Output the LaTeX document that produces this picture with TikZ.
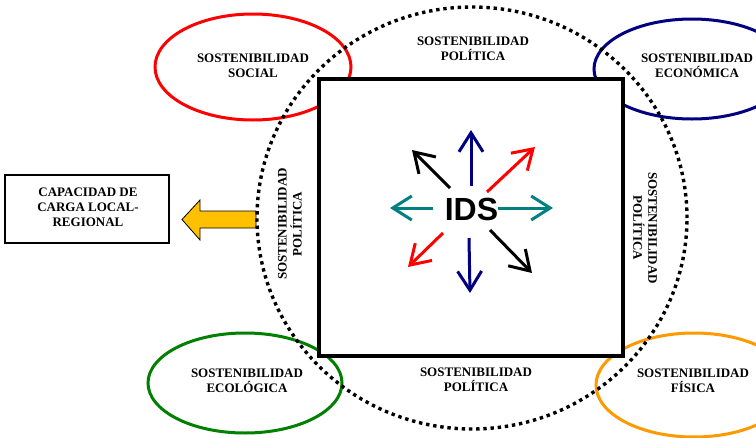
\documentclass[tikz,border=0pt]{standalone}
\usepackage{fontspec}
\setmainfont{Liberation Serif}
\newfontfamily\arialfont{Liberation Sans}
\usetikzlibrary{arrows.meta}
\definecolor{navyc}{RGB}{0,0,128}
\definecolor{tealc}{RGB}{0,128,128}
\definecolor{greenc}{RGB}{0,128,0}
\definecolor{orangec}{RGB}{255,153,0}
\definecolor{yellowc}{RGB}{255,192,0}
\definecolor{redc}{RGB}{255,0,0}
\tikzset{
  lab/.style={font=\bfseries\fontsize{13}{15}\selectfont, align=center, inner sep=0pt},
  ell/.style={line width=3pt},
  arr/.style={line width=3pt, -{Straight Barb[length=19pt,width=24pt]}},
  dotted circ/.style={line width=3.4pt, dash pattern=on 3.4pt off 3.8pt},
}
\begin{document}
\begin{tikzpicture}[x=1pt,y=-1pt]
\useasboundingbox (0,0) rectangle (756,437);
\fill[white] (0,0) rectangle (756,437);
% ellipses
\draw[ell, redc] (253,67) ellipse [x radius=98pt, y radius=53pt];
\draw[ell, navyc] (692,69) ellipse [x radius=98pt, y radius=50pt];
\draw[ell, greenc] (245,383) ellipse [x radius=97pt, y radius=50pt];
\draw[ell, orangec] (694,385) ellipse [x radius=98pt, y radius=52pt];
% yellow block arrow
\fill[yellowc, draw=black, line width=0.8pt] (256,211) -- (200,211) -- (200,200) -- (182,219.5) -- (200,240) -- (200,228) -- (256,228) -- cycle;
% dotted circle
\draw[dotted circ] (472,218) ellipse [x radius=215pt, y radius=211pt];
% central square
\node[draw=black, fill=white, line width=4pt, minimum width=304pt, minimum height=277pt, inner sep=0pt] (sq) at (471,217.5) {};
% capacity box
\node[draw=black, line width=1.2pt, minimum width=164pt, minimum height=68pt, inner sep=0pt] (cap) at (87,209) {};
\node[lab] (capt) at (88,207.5) {CAPACIDAD DE\\CARGA LOCAL-\\REGIONAL};
% labels
\node[lab] (social) at (253,66) {SOSTENIBILIDAD\\SOCIAL};
\node[lab] (polt) at (473,49) {SOSTENIBILIDAD\\POLÍTICA};
\node[lab] (econ) at (697,66) {SOSTENIBILIDAD\\ECONÓMICA};
\node[lab] (polb) at (476,380) {SOSTENIBILIDAD\\POLÍTICA};
\node[lab] (ecol) at (247,381) {SOSTENIBILIDAD\\ECOLÓGICA};
\node[lab] (fis) at (693,381) {SOSTENIBILIDAD\\FÍSICA};
\node[lab, rotate=90] (poll) at (290,224) {SOSTENIBILIDAD\\POLÍTICA};
\node[lab, rotate=-90] (polr) at (645,228) {SOSTENIBILIDAD\\POLÍTICA};
% IDS
\node[font=\arialfont\bfseries\fontsize{32}{36}\selectfont, inner sep=0pt] (ids) at (471.5,209) {IDS};
% arrow coordinates
\coordinate (uS) at (471,186); \coordinate (uE) at (471,130);
\coordinate (dS) at (469,238); \coordinate (dE) at (470,293);
\coordinate (lS) at (433,208); \coordinate (lE) at (390,208);
\coordinate (rS) at (498,208); \coordinate (rE) at (553,208);
\coordinate (ulS) at (450,188); \coordinate (ulE) at (412,150);
\coordinate (urS) at (487,192); \coordinate (urE) at (535,147);
\coordinate (dlS) at (443,233); \coordinate (dlE) at (408,267);
\coordinate (drS) at (490,230); \coordinate (drE) at (532,273);
\draw[arr, navyc] (uS) -- (uE);
\draw[arr, navyc] (dS) -- (dE);
\draw[arr, tealc] (lS) -- (lE);
\draw[arr, tealc] (rS) -- (rE);
\draw[arr, black] (ulS) -- (ulE);
\draw[arr, redc] (urS) -- (urE);
\draw[arr, redc] (dlS) -- (dlE);
\draw[arr, black] (drS) -- (drE);
\end{tikzpicture}
\end{document}
